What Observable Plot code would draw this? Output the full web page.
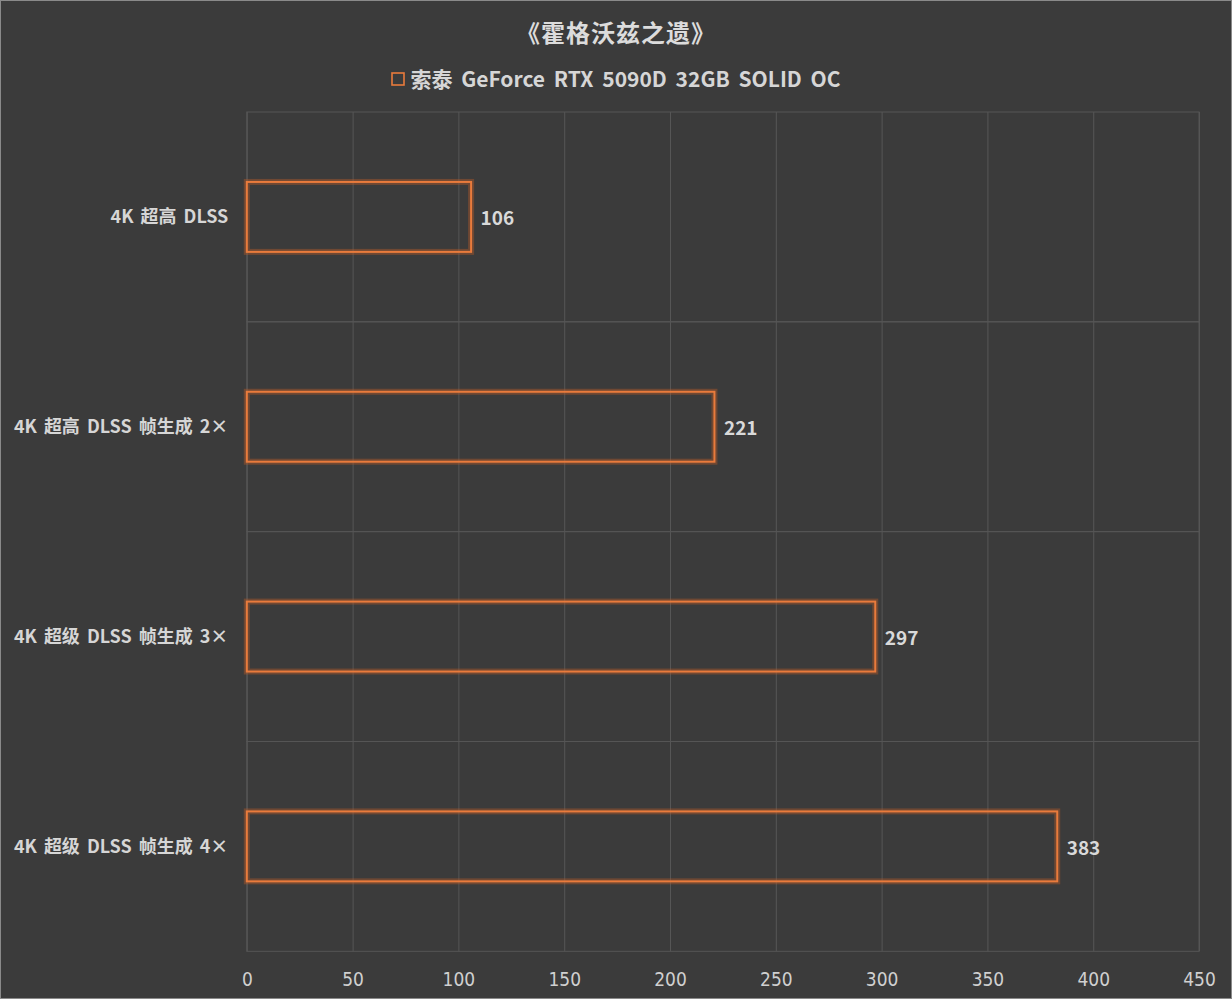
<!DOCTYPE html>
<html>
<head>
<meta charset="utf-8">
<script src="https://cdn.jsdelivr.net/npm/d3@7"></script>
<script src="https://cdn.jsdelivr.net/npm/@observablehq/plot@0.6"></script>
<style>
  html, body { margin: 0; padding: 0; background: #3b3b3b; }
  #wrap { position: relative; width: 1230px; height: 997px; border: 1px solid #8a8a8a; background: #3b3b3b; overflow: hidden; }
  #title { position: absolute; top: 13px; left: 0; width: 100%; text-align: center; font-family: "Noto Sans CJK SC", sans-serif; font-weight: 700; font-size: 24px; letter-spacing: 1px; color: #dcdcdc; line-height: 36px; }
  #legend { position: absolute; top: 59px; left: 0; width: 100%; text-align: center; font-family: "Noto Sans CJK SC", sans-serif; font-weight: 700; font-size: 21px; word-spacing: 4px; color: #d6d6d6; line-height: 36px; }
  #legend svg { vertical-align: middle; margin-right: 5px; position: relative; top: -2px; }
  #chart { position: absolute; top: 99px; left: -1px; }
</style>
</head>
<body>
<div id="wrap">
  <div id="title"></div>
  <div id="legend"><svg width="14" height="14"><rect x="1" y="1" width="12" height="12" fill="none" stroke="#e97b3c" stroke-width="1.6"></rect></svg><span id="legendText"></span></div>
  <div id="chart"></div>
</div>
<script>
const title = "《霍格沃兹之遗》";
const seriesName = "索泰 GeForce RTX 5090D 32GB SOLID OC";
const categories = ["4K 超高 DLSS", "4K 超高 DLSS 帧生成 2×", "4K 超级 DLSS 帧生成 3×", "4K 超级 DLSS 帧生成 4×"];
const values = [106, 221, 297, 383];
const xTicks = [0, 50, 100, 150, 200, 250, 300, 350, 400, 450];

document.getElementById("title").textContent = title;
document.getElementById("legendText").textContent = seriesName;

const data = categories.map((c, i) => ({category: c, value: values[i]}));
const orange = "#e97b3c";
const gridColor = "#565656";

const chart = Plot.plot({
  width: 1232,
  height: 900,
  marginTop: 12,
  marginBottom: 48,
  marginLeft: 247,
  marginRight: 32,
  style: {background: "transparent", color: "#d6d6d6"},
  x: {domain: [0, 450], ticks: xTicks, label: null, tickSize: 0, tickPadding: 21},
  y: {domain: categories, padding: 0, label: null, tickSize: 0, tickPadding: 19},
  marks: [
    Plot.gridX(xTicks, {stroke: gridColor, strokeOpacity: 1, strokeWidth: 1}),
    Plot.barX(categories, {x1: 0, x2: 450, y: d => d, fill: "none", stroke: gridColor, strokeWidth: 1}),
    Plot.barX(data, {x: "value", y: "category", insetTop: 70, insetBottom: 70, fill: "none", stroke: "#b0582a", strokeWidth: 6, strokeOpacity: 0.45}),
    Plot.barX(data, {x: "value", y: "category", insetTop: 70, insetBottom: 70, fill: "none", stroke: orange, strokeWidth: 2}),
    Plot.text(data, {x: "value", y: "category", text: d => String(d.value), dx: 9, dy: 2, textAnchor: "start", fill: "#d9d9d9", fontSize: 19, fontWeight: 700, fontFamily: "Noto Sans CJK SC, sans-serif"}),
    Plot.axisY({tickSize: 0, tickPadding: 19, fontSize: 18, fontWeight: 700, fontFamily: "Noto Sans CJK SC, sans-serif", fill: "#d6d6d6", label: null}),
    Plot.axisX(xTicks, {tickSize: 0, tickPadding: 21, fontSize: 19, fontFamily: "Liberation Sans Narrow, DejaVu Sans Condensed, sans-serif", fill: "#d0d0d0", label: null})
  ]
});
chart.querySelectorAll("[aria-label='y-axis tick label'] text").forEach(t => t.style.wordSpacing = "3px");
document.getElementById("chart").appendChild(chart);
</script>
</body>
</html>
